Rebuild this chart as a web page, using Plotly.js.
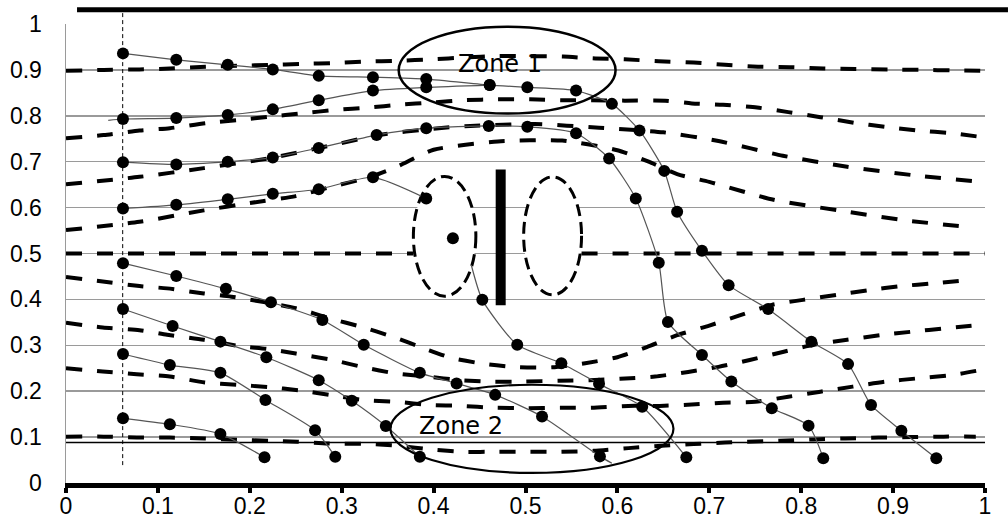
<!DOCTYPE html>
<html>
<head>
<meta charset="utf-8">
<script src="https://cdn.plot.ly/plotly-3.0.1.min.js"></script>
<style>html,body{margin:0;padding:0;background:#fff;}#chart{width:1008px;height:525px;}</style>
</head>
<body>
<div id="chart"></div>
<script>
// ---- Tick labels ----
const xTickVals = [0, 0.1, 0.2, 0.3, 0.4, 0.5, 0.6, 0.7, 0.8, 0.9, 1];
const xTickText = ["0", "0.1", "0.2", "0.3", "0.4", "0.5", "0.6", "0.7", "0.8", "0.9", "1"];
const yTickVals = [0, 0.1, 0.2, 0.3, 0.4, 0.5, 0.6, 0.7, 0.8, 0.9, 1];
const yTickText = ["0", "0.1", "0.2", "0.3", "0.4", "0.5", "0.6", "0.7", "0.8", "0.9", "1"];

// ---- Dashed streamlines ----
const sl09x = [0, 0.041, 0.08, 0.113, 0.152, 0.189, 0.222, 0.255, 0.294, 0.325, 0.361, 0.398, 0.434, 0.469, 0.504, 0.541, 0.576, 0.608, 0.645, 0.683, 0.717, 0.753, 0.788, 0.824, 0.859, 0.895, 0.931, 0.966, 0.997];
const sl09y = [0.898, 0.9, 0.901, 0.903, 0.907, 0.909, 0.911, 0.913, 0.915, 0.918, 0.92, 0.923, 0.927, 0.93, 0.93, 0.929, 0.925, 0.923, 0.919, 0.916, 0.911, 0.907, 0.906, 0.903, 0.902, 0.901, 0.9, 0.899, 0.898];
const sl075x = [0, 0.041, 0.08, 0.113, 0.152, 0.189, 0.222, 0.255, 0.294, 0.329, 0.363, 0.398, 0.434, 0.47, 0.505, 0.539, 0.572, 0.608, 0.652, 0.681, 0.715, 0.752, 0.786, 0.821, 0.857, 0.891, 0.927, 0.964, 0.995];
const sl075y = [0.751, 0.758, 0.768, 0.773, 0.784, 0.791, 0.798, 0.805, 0.813, 0.818, 0.824, 0.829, 0.834, 0.836, 0.836, 0.834, 0.834, 0.833, 0.833, 0.827, 0.824, 0.818, 0.808, 0.797, 0.785, 0.776, 0.768, 0.762, 0.754];
const sl065x = [0, 0.08, 0.15, 0.22, 0.29, 0.34, 0.4, 0.44, 0.51, 0.58, 0.65, 0.71, 0.78, 0.85, 0.92, 1];
const sl065y = [0.651, 0.667, 0.686, 0.707, 0.736, 0.758, 0.772, 0.778, 0.782, 0.774, 0.764, 0.745, 0.713, 0.689, 0.671, 0.655];
const sl055x = [0, 0.08, 0.15, 0.2, 0.25, 0.29, 0.33, 0.36, 0.4, 0.47, 0.54, 0.6, 0.634, 0.665, 0.7, 0.77, 0.84, 0.91, 0.98];
const sl055y = [0.551, 0.569, 0.594, 0.61, 0.625, 0.646, 0.666, 0.689, 0.726, 0.744, 0.746, 0.725, 0.7, 0.673, 0.656, 0.617, 0.594, 0.573, 0.558];
const sl05x = [0, 0.378, null, 0.561, 1];
const sl05y = [0.5, 0.5, null, 0.5, 0.5];
const sl045x = [0, 0.04, 0.08, 0.11, 0.15, 0.18, 0.25, 0.29, 0.32, 0.355, 0.39, 0.42, 0.457, 0.493, 0.529, 0.565, 0.6, 0.632, 0.665, 0.7, 0.733, 0.768, 0.802, 0.839, 0.873, 0.909, 0.944, 0.98];
const sl045y = [0.449, 0.439, 0.429, 0.424, 0.413, 0.406, 0.381, 0.357, 0.341, 0.319, 0.293, 0.272, 0.259, 0.252, 0.252, 0.261, 0.274, 0.296, 0.322, 0.343, 0.365, 0.388, 0.399, 0.41, 0.42, 0.429, 0.435, 0.442];
const sl035x = [0, 0.04, 0.08, 0.11, 0.15, 0.19, 0.22, 0.25, 0.29, 0.324, 0.358, 0.392, 0.43, 0.46, 0.5, 0.536, 0.57, 0.603, 0.641, 0.677, 0.71, 0.744, 0.781, 0.813, 0.85, 0.886, 0.922, 0.956, 0.992];
const sl035y = [0.349, 0.339, 0.333, 0.323, 0.312, 0.298, 0.292, 0.282, 0.268, 0.252, 0.239, 0.232, 0.224, 0.221, 0.221, 0.223, 0.224, 0.227, 0.232, 0.242, 0.253, 0.268, 0.286, 0.301, 0.312, 0.322, 0.33, 0.337, 0.344];
const sl025x = [0, 0.04, 0.077, 0.113, 0.151, 0.186, 0.22, 0.253, 0.29, 0.322, 0.359, 0.397, 0.43, 0.465, 0.501, 0.538, 0.572, 0.612, 0.646, 0.681, 0.715, 0.75, 0.786, 0.821, 0.856, 0.892, 0.927, 0.964, 0.995];
const sl025y = [0.25, 0.243, 0.237, 0.232, 0.219, 0.214, 0.209, 0.202, 0.191, 0.181, 0.177, 0.17, 0.168, 0.164, 0.163, 0.164, 0.164, 0.168, 0.168, 0.171, 0.175, 0.177, 0.188, 0.199, 0.21, 0.221, 0.228, 0.235, 0.246];
const sl01x = [0, 0.041, 0.077, 0.113, 0.151, 0.186, 0.222, 0.252, 0.285, 0.329, 0.362, 0.398, 0.432, 0.469, 0.505, 0.539, 0.574, 0.612, 0.648, 0.683, 0.717, 0.741, 0.777, 0.813, 0.848, 0.884, 0.92, 0.955, 0.99];
const sl01y = [0.101, 0.101, 0.099, 0.099, 0.097, 0.094, 0.092, 0.09, 0.086, 0.085, 0.081, 0.073, 0.068, 0.068, 0.068, 0.068, 0.07, 0.076, 0.081, 0.085, 0.088, 0.09, 0.092, 0.095, 0.097, 0.099, 0.1, 0.101, 0.101];

// ---- Particle paths (dots) ----
const p1x = [0.062, 0.12, 0.176, 0.225, 0.275, 0.334, 0.392, 0.461, 0.502, 0.555, 0.594, 0.624, 0.651, 0.665, 0.692, 0.721, 0.764, 0.811, 0.851, 0.876, 0.909, 0.947];
const p1y = [0.936, 0.922, 0.911, 0.901, 0.887, 0.884, 0.880, 0.867, 0.862, 0.855, 0.826, 0.768, 0.680, 0.591, 0.506, 0.431, 0.379, 0.308, 0.259, 0.170, 0.114, 0.054];
const p2x = [0.046, 0.062, 0.12, 0.176, 0.225, 0.275, 0.334, 0.392, 0.461];
const p2y = [0.79, 0.793, 0.795, 0.802, 0.814, 0.834, 0.855, 0.862, 0.867];
const p3x = [0.062, 0.12, 0.176, 0.225, 0.275, 0.338, 0.392, 0.46, 0.502, 0.555, 0.591, 0.620, 0.645, 0.655, 0.692, 0.724, 0.768, 0.808, 0.824];
const p3y = [0.699, 0.694, 0.700, 0.709, 0.730, 0.758, 0.773, 0.778, 0.776, 0.762, 0.707, 0.620, 0.480, 0.351, 0.279, 0.221, 0.163, 0.125, 0.054];
const p4ax = [0.062, 0.12, 0.176, 0.225, 0.275, 0.334, 0.392];
const p4ay = [0.598, 0.606, 0.618, 0.630, 0.640, 0.666, 0.620];
const vortexDotX = [0.421];
const vortexDotY = [0.533];
const p4bx = [0.441, 0.453, 0.491, 0.539, 0.580, 0.627, 0.675];
const p4by = [0.475, 0.399, 0.301, 0.261, 0.216, 0.166, 0.056];
const p5x = [0.062, 0.12, 0.174, 0.223, 0.279, 0.324, 0.385, 0.425, 0.467, 0.518, 0.581, 0.594];
const p5y = [0.479, 0.451, 0.423, 0.394, 0.355, 0.301, 0.240, 0.217, 0.192, 0.145, 0.058, 0.043];
const p6x = [0.062, 0.116, 0.168, 0.218, 0.275, 0.311, 0.348, 0.385];
const p6y = [0.379, 0.342, 0.308, 0.274, 0.224, 0.179, 0.124, 0.057];
const p7x = [0.062, 0.113, 0.168, 0.217, 0.271, 0.293];
const p7y = [0.281, 0.257, 0.240, 0.181, 0.115, 0.057];
const p8x = [0.062, 0.113, 0.168, 0.216];
const p8y = [0.141, 0.128, 0.107, 0.056];

// ---- Plate and zones ----
const plateX = [0.473, 0.473];
const plateY = [0.387, 0.683];
const zoneLabels = ["Zone 1", "Zone 2"];
const zoneLabelX = [0.472, 0.43];
const zoneLabelY = [0.912, 0.125];
const zone1Box = [0.362, 0.598, 0.805, 0.994];
const zone2Box = [0.353, 0.661, 0.022, 0.214];
const leftEddyBox = [0.378, 0.446, 0.407, 0.668];
const rightEddyBox = [0.498, 0.561, 0.41, 0.667];
const wallLineY = 0.088;
const startLineX = 0.0617;

const traces = [];
const dashStyle = {color: '#000', width: 4, dash: '16px,15px', shape: 'spline', smoothing: 0.6};
[[sl09x, sl09y], [sl075x, sl075y], [sl065x, sl065y], [sl055x, sl055y], [sl05x, sl05y],
 [sl045x, sl045y], [sl035x, sl035y], [sl025x, sl025y], [sl01x, sl01y]].forEach(([x, y]) => {
  traces.push({x, y, type: 'scatter', mode: 'lines', line: dashStyle, connectgaps: false, hoverinfo: 'skip'});
});

traces.push({x: [0, 1], y: [wallLineY, wallLineY], type: 'scatter', mode: 'lines',
  line: {color: '#000', width: 1.5}, hoverinfo: 'skip'});

function pathTrace(x, y, hideFirst, hideLast) {
  const sizes = x.map((_, i) => ((hideFirst && i === 0) || (hideLast && i === x.length - 1)) ? 0 : 12);
  return {x, y, type: 'scatter', mode: 'lines+markers',
    line: {color: '#555', width: 1.2, shape: 'spline', smoothing: 0.6},
    marker: {color: '#000', size: sizes, opacity: 1, line: {width: 0}}, hoverinfo: 'skip'};
}
traces.push(pathTrace(p1x, p1y));
traces.push(pathTrace(p2x, p2y, true));
traces.push(pathTrace(p3x, p3y));
traces.push(pathTrace(p4ax, p4ay));
traces.push({x: vortexDotX, y: vortexDotY, type: 'scatter', mode: 'markers', marker: {color: '#000', size: 12, opacity: 1}, hoverinfo: 'skip'});
traces.push(pathTrace(p4bx, p4by, true));
traces.push(pathTrace(p5x, p5y, false, true));
traces.push(pathTrace(p6x, p6y));
traces.push(pathTrace(p7x, p7y));
traces.push(pathTrace(p8x, p8y));

traces.push({x: plateX, y: plateY, type: 'scatter', mode: 'lines', line: {color: '#000', width: 10}, hoverinfo: 'skip'});

function ellipse(b, dash, width, fill, layer) {
  return {type: 'circle', xref: 'x', yref: 'y', x0: b[0], x1: b[1], y0: b[2], y1: b[3],
    line: {color: '#000', width: width, dash: dash}, fillcolor: fill, layer: layer};
}

const tickFont = {family: 'Liberation Sans, Arial, sans-serif', size: 23, color: '#000'};

const layout = {
  width: 1008, height: 525,
  margin: {l: 66, r: 23, t: 24, b: 42, pad: 0},
  paper_bgcolor: '#fff', plot_bgcolor: '#fff',
  showlegend: false,
  font: {family: 'Liberation Sans, Arial, sans-serif', size: 23, color: '#000'},
  xaxis: {range: [0, 1], tickvals: xTickVals, ticktext: xTickText, showgrid: false, zeroline: false,
    showline: true, linecolor: '#000', linewidth: 5, ticks: 'outside', ticklen: 5, tickwidth: 4, tickcolor: '#000',
    tickfont: tickFont, ticklabelstandoff: -7},
  yaxis: {range: [0, 1], tickvals: yTickVals, ticktext: yTickText, showgrid: true, gridcolor: '#9a9a9a', gridwidth: 1.5,
    zeroline: false, showline: true, linecolor: '#9a9a9a', linewidth: 1.5, ticks: '', tickfont: tickFont,
    ticklabelstandoff: 18},
  shapes: [
    ellipse(leftEddyBox, '12px,6px', 3, '#fff', 'between'),
    ellipse(rightEddyBox, '12px,6px', 3, '#fff', 'between'),
    ellipse(zone1Box, 'solid', 2.5, 'rgba(0,0,0,0)', 'above'),
    ellipse(zone2Box, 'solid', 2.2, 'rgba(0,0,0,0)', 'above'),
    {type: 'line', xref: 'paper', yref: 'paper', x0: 0.012, x1: 1.025, y0: 1.031, y1: 1.031,
      line: {color: '#000', width: 5}},
    {type: 'line', xref: 'paper', yref: 'paper', x0: startLineX, x1: startLineX, y0: 0.039, y1: 1.03,
      line: {color: '#000', width: 1, dash: '4px,3px'}}
  ],
  annotations: zoneLabels.map((t, i) => ({x: zoneLabelX[i], y: zoneLabelY[i], xref: 'x', yref: 'y', text: t,
    showarrow: false, font: {family: 'DejaVu Sans, sans-serif', size: 24, color: '#000'}}))
};

Plotly.newPlot('chart', traces, layout, {staticPlot: true, displayModeBar: false});
</script>
</body>
</html>
